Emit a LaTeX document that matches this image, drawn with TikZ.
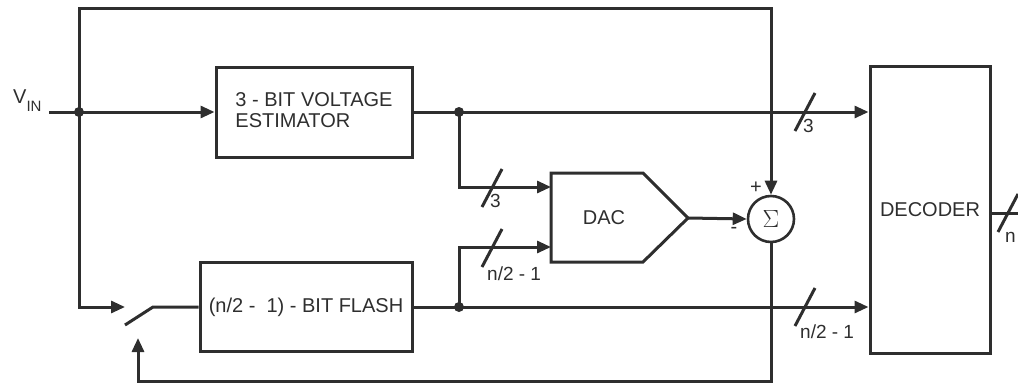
\documentclass[tikz,border=0pt]{standalone}
\usepackage{fontspec}
\setmainfont{Liberation Sans}
\usetikzlibrary{arrows.meta}
\definecolor{ink}{HTML}{2E2E2E}
\tikzset{
  wire/.style={line width=3pt, draw=ink},
  arr/.style={wire, -{Triangle[length=14pt,width=12pt]}},
  block/.style={draw=ink, line width=3pt, rectangle, inner sep=0pt},
  dot/.style={circle, fill=ink, inner sep=0pt, minimum size=10pt},
  bus/.style={wire, line cap=butt},
  lbl/.style={inner sep=0pt, text=ink, anchor=base west, font=\fontsize{19}{20}\selectfont},
}
\begin{document}
\begin{tikzpicture}[x=1pt, y=-1pt, font=\fontsize{20}{21}\selectfont, text=ink]
  \useasboundingbox (0,0) rectangle (1018,383);
  % blocks
  \node[block, minimum width=196pt, minimum height=90pt, align=left] (est) at (314,112) {3 - BIT VOLTAGE\\ESTIMATOR\rule[-4pt]{0pt}{4pt}};
  \node[block, minimum width=212pt, minimum height=89pt] (flash) at (306,307) {(n/2 -\ \ 1) - BIT FLASH};
  \node[block, minimum width=120pt, minimum height=287pt] (dec) at (930,209.5) {DECODER};
  \node[circle, draw=ink, line width=2.6pt, minimum size=46pt, inner sep=0pt, font=\fontsize{25}{25}\selectfont] (sum) at (771,219) {$\Sigma$};
  \draw[wire, line join=miter] (551,173) -- (643,173) -- (688,218) coordinate (dac out) -- (643,262) -- (551,262) -- cycle;
  \node (dac) at (604,218) {DAC};
  \coordinate (dac in1) at (551,187);
  \coordinate (dac in2) at (551,247);
  % points
  \coordinate (vin) at (49,112);
  \node[dot] (j1) at (79,112) {};
  \node[dot] (j2) at (459,112) {};
  \node[dot] (j3) at (459,307) {};
  \coordinate (top) at (771,8);
  \coordinate (sw in) at (125,307);
  \coordinate (sw a) at (125,325);
  \coordinate (sw b) at (153,307);
  \coordinate (fb) at (138,338);
  \coordinate (bot) at (138,381);
  \coordinate (out) at (1018,213);
  % connectors
  \draw[arr] (vin) -- (est.west);
  \draw[arr] (j1.center) |- (top) -- (sum.north);
  \draw[arr] (j1.center) |- (sw in);
  \draw[wire] (sw a) -- (sw b) -- (flash.west);
  \draw[arr] (est.east) -- (est.east -| dec.west);
  \draw[arr] (j2.center) |- (dac in1);
  \draw[arr] (flash.east) -- (flash.east -| dec.west);
  \draw[arr] (j3.center) |- (dac in2);
  \draw[arr] (dac out) -- (sum.west);
  \draw[arr] (sum.south) |- (bot) -- (fb);
  \draw[wire] (dec.east |- out) -- (out);
  % bus widths
  \foreach \sx/\sy in {492/188, 492/248, 805/112, 805/307, 1008/213}
    \draw[bus] (\sx-10,\sy+19) -- (\sx+10,\sy-19);
  \node[lbl] (l3a) at (490,207) {3};
  \node[lbl] (lna) at (487,280) {n/2 - 1};
  \node[lbl] (l3b) at (803,132) {3};
  \node[lbl] (lnb) at (800,338) {n/2 - 1};
  \node[lbl] (ln) at (1005,242) {n};
  % signs and input
  \node[inner sep=0pt] (plus) at (756,188) {+};
  \node[inner sep=0pt] (minus) at (734,230) {-};
  \node[lbl, font=\fontsize{20}{21}\selectfont] (vinlbl) at (13,103) {V\raisebox{-8pt}{\fontsize{15}{15}\selectfont IN}};
\end{tikzpicture}
\end{document}
